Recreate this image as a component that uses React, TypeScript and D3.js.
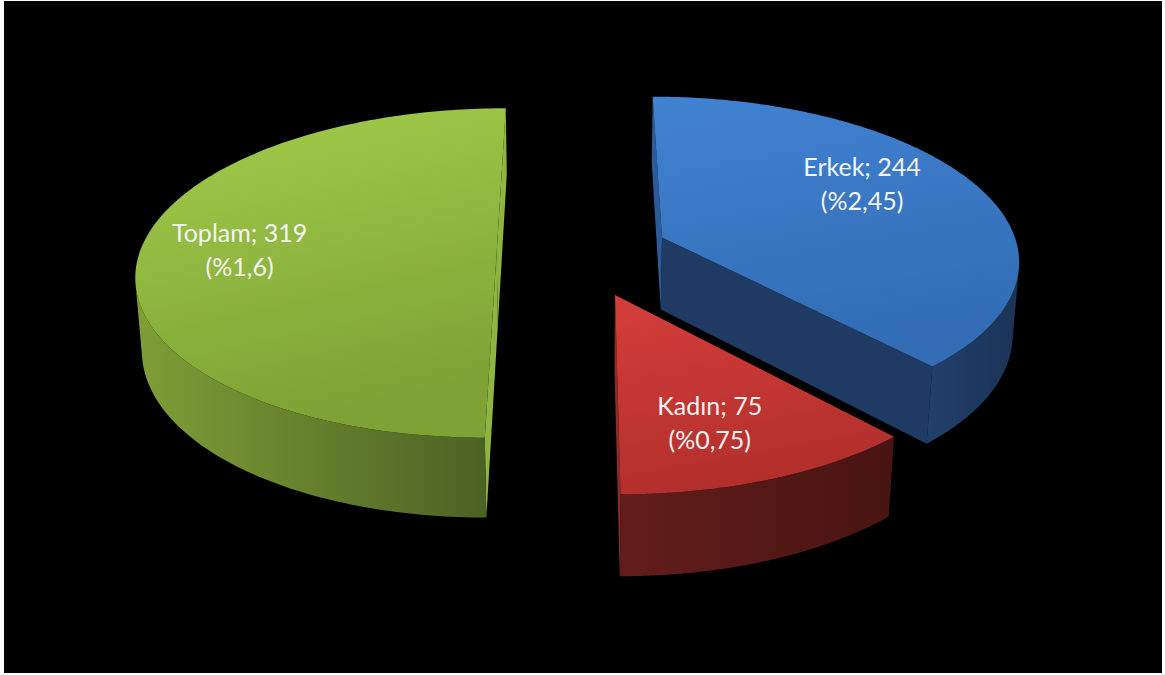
import React from 'react';
import * as d3 from 'd3';

// ---- data ----
const categories = ['Erkek', 'Kadın', 'Toplam'];
const values = [244, 75, 319];
const percentLabels = ['%2,45', '%0,75', '%1,6'];

// ---- style ----
const topColors = [
  ['#4182d2', '#326db6'],
  ['#d53e3a', '#b22f2c'],
  ['#a3cd4b', '#7ea235'],
];
const wallColors = [
  ['#21406a', '#1b3356'],
  ['#621d1b', '#481412'],
  ['#7e9e37', '#4c6224'],
];
// [start face, end face]
const cutColors = [
  ['#2c5b99', '#1f3b63'],
  ['#6a201e', '#8a2c29'],
  ['#8db540', '#8db540'],
];
const explode = [0.254, 0.275, 0.229];
const labelPlacement = [
  { frac: 0.44, r: 0.69 },
  { frac: 0.57, r: 0.72 },
  { frac: 0.5, r: 0.72 },
];

const W = 1165;
const H = 675;
const CX = 578.4;
const CY = 252.1;
const SCALE = 357;
const ALPHA = (27 * Math.PI) / 180;
const SA = Math.sin(ALPHA);
const CA = Math.cos(ALPHA);
const DIST = CA / 0.1266;
const THICK = 0.232;
const CAM = [0, DIST * SA, -DIST * CA];

function project(X: number, Y: number, Z: number): [number, number] {
  const depth = DIST + Z * CA - Y * SA;
  const f = (SCALE * DIST) / depth;
  return [CX + X * f, CY - (Y * CA + Z * SA) * f];
}

function visible(n: number[], p: number[]) {
  return n[0] * (CAM[0] - p[0]) + n[1] * (CAM[1] - p[1]) + n[2] * (CAM[2] - p[2]) > 0;
}

const line = d3.line();

export default function App() {
  const pie = d3.pie<number>().sort(null).startAngle(0).endAngle(2 * Math.PI);
  const arcs = pie(values);
  const STEPS = 180;

  const slices = arcs.map((a, i) => {
    const mid = (a.startAngle + a.endAngle) / 2;
    const ox = explode[i] * Math.sin(mid);
    const oz = explode[i] * Math.cos(mid);
    const angs = d3.range(STEPS + 1).map((k) => a.startAngle + ((a.endAngle - a.startAngle) * k) / STEPS);
    const rim = (t: number, Y: number) => project(ox + Math.sin(t), Y, oz + Math.cos(t));
    const apexTop = project(ox, 0, oz);
    const apexBot = project(ox, -THICK, oz);

    const topPts: [number, number][] = [apexTop, ...angs.map((t) => rim(t, 0))];
    const topPath = line(topPts) + 'Z';

    const visAngs = angs.filter((t) =>
      visible([Math.sin(t), 0, Math.cos(t)], [ox + Math.sin(t), -THICK / 2, oz + Math.cos(t)])
    );
    let wallPath: string | null = null;
    let wallX0 = 0;
    let wallX1 = 0;
    if (visAngs.length > 1) {
      const tp = visAngs.map((t) => rim(t, 0));
      const bp = visAngs.map((t) => rim(t, -THICK)).reverse();
      const all = [...tp, ...bp];
      wallPath = line(all) + 'Z';
      wallX0 = d3.min(all, (d) => d[0])!;
      wallX1 = d3.max(all, (d) => d[0])!;
    }

    const cuts: { d: string; color: string }[] = [];
    const faceDefs = [
      { t: a.startAngle, n: [-Math.cos(a.startAngle), 0, Math.sin(a.startAngle)], color: cutColors[i][0] },
      { t: a.endAngle, n: [Math.cos(a.endAngle), 0, -Math.sin(a.endAngle)], color: cutColors[i][1] },
    ];
    faceDefs.forEach((fd) => {
      const p = [ox + 0.5 * Math.sin(fd.t), -THICK / 2, oz + 0.5 * Math.cos(fd.t)];
      if (visible(fd.n, p)) {
        const pts: [number, number][] = [apexTop, rim(fd.t, 0), rim(fd.t, -THICK), apexBot];
        cuts.push({ d: line(pts) + 'Z', color: fd.color });
      }
    });

    const lp = labelPlacement[i];
    const lt = a.startAngle + (a.endAngle - a.startAngle) * lp.frac;
    const labelPos = project(ox + lp.r * Math.sin(lt), 0, oz + lp.r * Math.cos(lt));
    return { i, topPath, wallPath, wallX0, wallX1, cuts, labelPos, zc: oz };
  });

  const order = [...slices].sort((a, b) => b.zc - a.zc);

  return (
    <svg
      width={W}
      height={H}
      style={{ position: 'absolute', left: 0, top: 0, background: '#ffffff' }}
    >
      <defs>
        {slices.map((s) => (
          <React.Fragment key={s.i}>
            <linearGradient id={`top${s.i}`} x1="0" y1="0" x2="0.25" y2="1">
              <stop offset="0" stopColor={topColors[s.i][0]} />
              <stop offset="1" stopColor={topColors[s.i][1]} />
            </linearGradient>
            <linearGradient
              id={`wall${s.i}`}
              gradientUnits="userSpaceOnUse"
              x1={s.wallX0}
              y1={0}
              x2={s.wallX1}
              y2={0}
            >
              <stop offset="0" stopColor={wallColors[s.i][0]} />
              <stop offset="1" stopColor={wallColors[s.i][1]} />
            </linearGradient>
          </React.Fragment>
        ))}
      </defs>
      <rect x={4} y={1} width={1158} height={672} fill="#000000" />
      {order.map((s) => (
        <g key={s.i}>
          {s.cuts.map((c, k) => (
            <path key={k} d={c.d} fill={c.color} />
          ))}
          {s.wallPath && <path d={s.wallPath} fill={`url(#wall${s.i})`} />}
          <path d={s.topPath} fill={`url(#top${s.i})`} />
        </g>
      ))}
      {slices.map((s) => (
        <text
          key={`l${s.i}`}
          x={s.labelPos[0]}
          y={s.labelPos[1]}
          textAnchor="middle"
          fontFamily="Lato, 'Open Sans', sans-serif"
          fontSize={25}
          fill="#f4f4f4"
        >
          <tspan x={s.labelPos[0]} dy={-10}>{`${categories[s.i]}; ${values[s.i]}`}</tspan>
          <tspan x={s.labelPos[0]} dy={34}>{`(${percentLabels[s.i]})`}</tspan>
        </text>
      ))}
    </svg>
  );
}
